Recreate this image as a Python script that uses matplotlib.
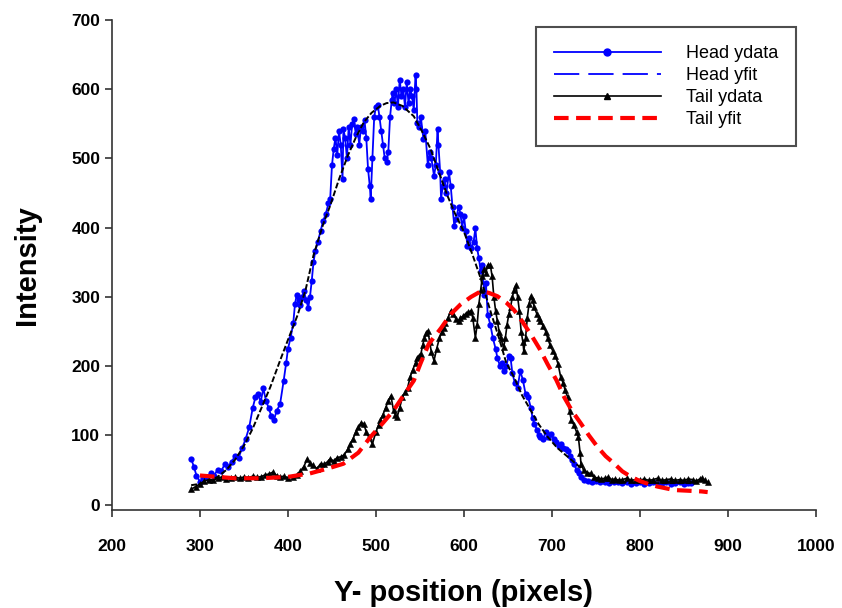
import matplotlib
matplotlib.use("Agg")
import matplotlib.pyplot as plt
from matplotlib.lines import Line2D

plt.rcParams['font.family'] = ['Liberation Sans', 'DejaVu Sans']

# head profile, raw data
head_x = [290, 293, 296, 300, 304, 308, 312, 316, 320, 324, 328, 332, 336, 340, 344, 348,
          352, 356, 360, 363, 366, 369, 372, 375, 378, 381, 384, 387, 391, 395, 398, 400,
          403, 406, 408, 410, 412, 414, 416, 418, 421, 423, 425, 427, 429, 431, 434, 437,
          440, 443, 446, 448, 450, 452, 454, 456, 458, 460, 462, 463, 465, 467, 469, 471,
          473, 475, 477, 479, 481, 483, 485, 487, 489, 491, 493, 494, 496, 498, 500, 502,
          504, 506, 508, 510, 512, 514, 516, 518, 519, 521, 523, 525, 527, 529, 531, 533,
          535, 537, 539, 541, 543, 545, 546, 547, 549, 551, 554, 556, 559, 561, 563, 566,
          568, 570, 571, 573, 574, 576, 578, 580, 583, 585, 587, 589, 591, 594, 596, 598,
          600, 602, 604, 606, 608, 611, 613, 615, 617, 619, 621, 623, 625, 627, 630, 633,
          636, 638, 641, 643, 645, 648, 651, 653, 655, 658, 661, 664, 667, 670, 673, 676,
          678, 680, 683, 685, 687, 690, 693, 696, 699, 702, 705, 708, 710, 713, 716, 718,
          721, 723, 725, 728, 731, 733, 737, 741, 745, 750, 755, 760, 765, 770, 775, 780,
          785, 790, 795, 800, 805, 810, 815, 820, 825, 830, 835, 840, 845, 850, 855, 858]
head_y = [66, 55, 42, 33, 38, 40, 45, 42, 50, 48, 58, 55, 62, 70, 68, 82,
          95, 112, 140, 155, 160, 148, 168, 150, 140, 128, 122, 135, 145, 178, 205, 225,
          241, 262, 290, 303, 295, 289, 300, 308, 295, 284, 300, 323, 350, 366, 380, 395,
          410, 420, 435, 442, 490, 514, 530, 505, 540, 520, 470, 542, 530, 500, 545, 520,
          550, 557, 535, 545, 520, 545, 540, 555, 530, 485, 460, 442, 500, 560, 575, 578,
          560, 540, 520, 500, 495, 509, 560, 585, 595, 580, 600, 575, 614, 590, 600, 575,
          610, 580, 600, 590, 570, 621, 600, 552, 545, 560, 528, 540, 490, 510, 500, 475,
          490, 542, 520, 480, 442, 460, 470, 450, 480, 460, 430, 403, 413, 430, 420, 400,
          417, 395, 374, 385, 370, 380, 399, 370, 356, 337, 346, 303, 320, 274, 260, 240,
          225, 212, 200, 205, 193, 200, 215, 212, 190, 175, 169, 193, 180, 160, 155, 140,
          125, 117, 108, 100, 98, 95, 105, 98, 102, 95, 90, 85, 88, 82, 80, 78,
          70, 65, 59, 50, 45, 40, 36, 34, 33, 34, 32, 33, 31, 32, 33, 31,
          32, 30, 31, 32, 30, 31, 32, 30, 31, 32, 30, 31, 32, 30, 31, 31]

# head profile, gaussian fit
head_fit_x = [290, 300, 310, 320, 330, 340, 350, 360, 370, 380, 391, 400, 411, 420, 429, 440,
              448, 458, 468, 477, 486, 495, 505, 512, 520, 530, 543, 552, 562, 571, 581, 590,
              600, 610, 619, 630, 640, 648, 657, 666, 676, 685, 695, 706, 718, 730, 741, 750,
              760, 771, 790, 820, 858]
head_fit_y = [28, 30, 34, 40, 50, 65, 85, 110, 140, 170, 208, 238, 274, 310, 360, 405,
              432, 470, 504, 530, 552, 566, 576, 580, 581, 576, 561, 540, 514, 482, 447, 420,
              394, 360, 327, 280, 240, 205, 184, 158, 136, 116, 98, 82, 69, 56, 45, 39,
              35, 33, 32, 31, 31]

# tail profile, raw data
tail_x = [290, 295, 300, 305, 310, 315, 320, 325, 330, 335, 340, 345, 350, 355, 360, 365,
          369, 374, 378, 383, 387, 391, 395, 400, 406, 410, 414, 418, 422, 425, 428, 433,
          437, 441, 445, 448, 452, 456, 460, 464, 468, 471, 474, 477, 480, 483, 486, 489,
          492, 496, 500, 503, 505, 508, 511, 514, 517, 520, 522, 524, 527, 530, 533, 536,
          539, 542, 545, 547, 549, 551, 553, 555, 557, 559, 561, 563, 566, 569, 572, 575,
          577, 579, 582, 585, 588, 591, 594, 596, 599, 602, 605, 608, 610, 613, 615, 617,
          619, 621, 623, 625, 627, 630, 632, 634, 636, 638, 640, 642, 645, 647, 649, 651,
          653, 655, 657, 659, 661, 663, 665, 667, 668, 670, 672, 674, 676, 678, 680, 683,
          685, 687, 690, 693, 695, 698, 701, 704, 707, 710, 713, 715, 718, 720, 722, 725,
          728, 730, 732, 733, 736, 740, 744, 748, 752, 756, 760, 764, 768, 772, 776, 780,
          785, 790, 795, 800, 805, 810, 815, 820, 825, 830, 835, 840, 845, 850, 855, 860,
          864, 868, 871, 874, 877]
tail_y = [22, 26, 30, 34, 36, 35, 38, 40, 37, 39, 40, 38, 40, 39, 41, 40,
          40, 43, 44, 47, 42, 40, 41, 39, 40, 43, 48, 55, 66, 60, 57, 52,
          59, 58, 62, 66, 63, 68, 69, 72, 80, 88, 95, 105, 112, 118, 117, 105,
          97, 88, 105, 115, 122, 130, 140, 150, 157, 136, 130, 126, 140, 155, 162, 169,
          185, 195, 205, 212, 215, 217, 230, 240, 248, 251, 235, 220, 208, 225, 240, 250,
          255, 262, 270, 280, 275, 268, 265, 270, 272, 276, 278, 280, 270, 241, 260, 290,
          310, 330, 340, 335, 346, 346, 330, 300, 280, 265, 250, 240, 227, 240, 260, 275,
          285, 300, 310, 317, 300, 280, 250, 235, 222, 240, 270, 290, 301, 295, 285, 275,
          270, 265, 258, 250, 241, 230, 222, 215, 203, 184, 175, 165, 155, 135, 122, 115,
          105, 98, 75, 59, 50, 46, 45, 40, 38, 37, 38, 40, 36, 37, 35, 36,
          38, 35, 36, 35, 37, 35, 36, 38, 35, 36, 37, 35, 36, 35, 37, 36,
          34, 37, 38, 35, 32]

# tail profile, gaussian fit
tail_fit_x = [300, 320, 340, 369, 400, 425, 445, 463, 480, 494, 508, 520, 530, 543, 551, 560,
              574, 585, 596, 608, 619, 628, 638, 648, 657, 666, 676, 686, 695, 705, 714, 723,
              733, 742, 752, 761, 771, 780, 790, 800, 809, 820, 839, 855, 870, 877]
tail_fit_y = [42, 40, 38, 38, 40, 45, 52, 59, 75, 98, 118, 136, 155, 179, 205, 232,
              255, 275, 289, 300, 308, 306, 301, 292, 281, 265, 246, 225, 203, 180, 155, 135,
              117, 100, 83, 70, 59, 48, 40, 34, 30, 26, 21, 20, 19, 18]

fig = plt.figure(figsize=(8.42, 6.08), dpi=100)
ax = fig.add_axes([0.133, 0.161, 0.836, 0.806])

ax.plot(head_x, head_y, color='#0000ff', lw=1.3, marker='o', ms=4.5, mew=0)
ax.plot(head_fit_x, head_fit_y, color='black', lw=1.4, dashes=(3, 1.2))
ax.plot(tail_x, tail_y, color='black', lw=1.2, marker='^', ms=5, mew=0.4)
ax.plot(tail_fit_x, tail_fit_y, color='#ff0000', lw=3, dashes=(3.5, 1.8))

ax.set_xlim(200, 1000)
ax.set_ylim(-8, 700)
ax.set_xticks(range(200, 1001, 100))
ax.set_yticks(range(0, 701, 100))
for s in ['top', 'right']:
    ax.spines[s].set_visible(False)
for s in ['left', 'bottom']:
    ax.spines[s].set_linewidth(1.2)
    ax.spines[s].set_color('#333333')
ax.tick_params(direction='out', length=5, width=1.2, color='#333333', labelsize=12.5)
ax.tick_params(axis='x', pad=16)
for lab in ax.get_xticklabels() + ax.get_yticklabels():
    lab.set_fontweight('bold')

ax.set_xlabel('Y- position (pixels)', fontsize=21, fontweight='bold', labelpad=18)
ax.set_ylabel('Intensity', fontsize=21, fontweight='bold', labelpad=22)

handles = [
    Line2D([], [], color='#0000ff', lw=1.3, marker='o', ms=5),
    Line2D([], [], color='#0000ff', lw=1.3, dashes=(14, 5)),
    Line2D([], [], color='black', lw=1.2, marker='^', ms=5),
    Line2D([], [], color='#ff0000', lw=3, dashes=(3.5, 1.8)),
]
labels = ['Head ydata', 'Head yfit', 'Tail ydata', 'Tail yfit']
leg = ax.legend(handles, labels, loc='upper right', bbox_to_anchor=(0.972, 0.985),
                fontsize=13, frameon=True, fancybox=False, handlelength=5.9,
                handletextpad=1.4, borderpad=1.0, labelspacing=0.27, numpoints=1,
                borderaxespad=0)
leg.get_frame().set_edgecolor('#222222')
leg.get_frame().set_linewidth(1.5)

fig.savefig('out.png', dpi=100)
